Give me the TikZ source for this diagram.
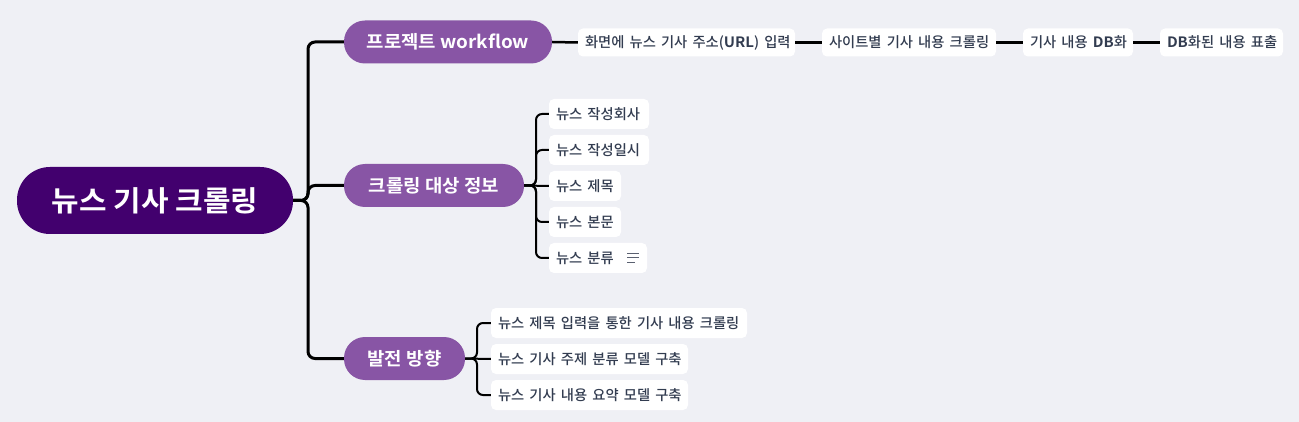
\documentclass[tikz,border=0pt]{standalone}
\usepackage{fontspec}
\setmainfont{Noto Sans CJK KR}
\newfontfamily\leaffont{Noto Sans CJK KR Medium}[WordSpace=1.6]
\newfontfamily\headfont{Noto Sans CJK KR Bold}[FakeStretch=1.05]
\newcommand\lbx[2]{\makebox[#1][l]{#2}}
\definecolor{bgc}{RGB}{239,240,245}
\definecolor{rootc}{RGB}{66,0,110}
\definecolor{branchc}{RGB}{136,85,165}
\definecolor{leaftxt}{RGB}{50,60,80}
\definecolor{iconc}{RGB}{90,96,112}
\begin{document}
\begin{tikzpicture}[x=1pt,y=-1pt,
  rootbox/.style={fill=rootc,text=white,font=\headfont\fontsize{28.5}{32}\selectfont,rounded corners=33pt,minimum width=276pt,minimum height=67pt,inner sep=0pt},
  branchbox/.style={fill=branchc,text=white,font=\headfont\fontsize{18}{21}\selectfont,rounded corners=21pt,minimum height=43pt,inner sep=0pt},
  leafbox/.style={fill=white,text=leaftxt,font=\leaffont\fontsize{14.3}{16}\selectfont,rounded corners=5pt,minimum height=30pt,inner ysep=0pt,inner xsep=7pt},
  chainbox/.style={leafbox,minimum height=28pt},
  trunk/.style={line width=3pt,black,rounded corners=7pt},
  subline/.style={line width=2pt,black,rounded corners=6pt},
  chainline/.style={line width=2.5pt,black}]
\fill[bgc] (0,0) rectangle (1299,422);
\useasboundingbox (0,0) rectangle (1299,422);

% root and branches
\node[rootbox] (root) at (155,200.5) {뉴스 기사 크롤링};
\node[branchbox,minimum width=208pt] (b1) at (448,42) {프로젝트 workflow};
\node[branchbox,minimum width=180pt] (b2) at (434,185.5) {크롤링 대상 정보};
\node[branchbox,minimum width=121pt] (b3) at (404.5,358.5) {발전 방향};

% workflow chain
\node[chainbox] (w1) at (686.5,42.5) {\lbx{203pt}{화면에 뉴스 기사 주소({\headfont URL}) 입력}};
\node[chainbox] (w2) at (909,42.5) {\lbx{160pt}{사이트별 기사 내용 크롤링}};
\node[chainbox] (w3) at (1078,42.5) {\lbx{96pt}{기사 내용 {\headfont DB}화}};
\node[chainbox] (w4) at (1221.5,42.5) {\lbx{109pt}{{\headfont DB}화된 내용 표출}};

% crawling targets
\node[leafbox] (c1) at (599,114) {\lbx{86pt}{뉴스 작성회사}};
\node[leafbox] (c2) at (599,150) {\lbx{86pt}{뉴스 작성일시}};
\node[leafbox] (c3) at (585,186) {\lbx{58pt}{뉴스 제목}};
\node[leafbox] (c4) at (585,222) {\lbx{58pt}{뉴스 본문}};
\node[leafbox] (c5) at (598,258) {\lbx{84pt}{뉴스 분류}};
\draw[iconc,line width=1pt] (627,253.5) -- (639,253.5) (627,258) -- (639,258) (627,262.5) -- (635,262.5);

% development direction
\node[leafbox] (d1) at (619,323) {\lbx{242pt}{뉴스 제목 입력을 통한 기사 내용 크롤링}};
\node[leafbox] (d2) at (589.5,359) {\lbx{183pt}{뉴스 기사 주제 분류 모델 구축}};
\node[leafbox] (d3) at (589.5,395) {\lbx{183pt}{뉴스 기사 내용 요약 모델 구축}};

% connectors
\coordinate (j) at (308,200.5);
\draw[trunk] (root.east) -- (j) |- (b1.west);
\draw[trunk] (root.east) -- (j) |- (b2.west);
\draw[trunk] (root.east) -- (j) |- (b3.west);

\coordinate (k) at (536,185.5);
\draw[subline] (b2.east) -- (k) |- (c1.west);
\draw[subline] (b2.east) -- (k) |- (c2.west);
\draw[subline] (b2.east) -- (c3.west);
\draw[subline] (b2.east) -- (k) |- (c4.west);
\draw[subline] (b2.east) -- (k) |- (c5.west);

\coordinate (m) at (477,358.5);
\draw[subline] (b3.east) -- (m) |- (d1.west);
\draw[subline] (b3.east) -- (d2.west);
\draw[subline] (b3.east) -- (m) |- (d3.west);

\draw[chainline] (b1.east) -- (w1.west);
\draw[chainline] (w1.east) -- (w2.west);
\draw[chainline] (w2.east) -- (w3.west);
\draw[chainline] (w3.east) -- (w4.west);
\end{tikzpicture}
\end{document}
